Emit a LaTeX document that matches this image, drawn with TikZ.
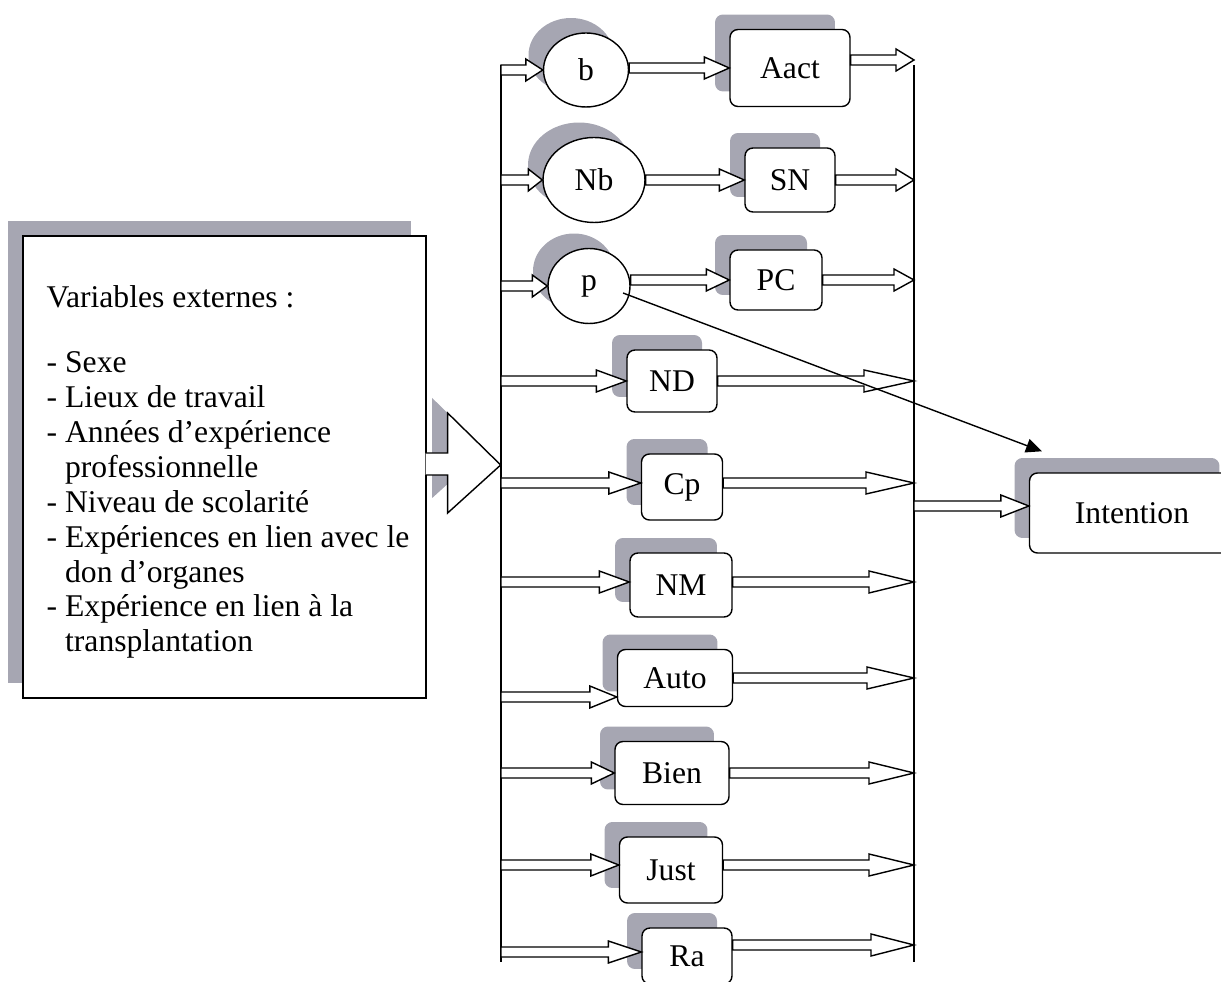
\documentclass[tikz,border=0pt]{standalone}
\usepackage{fontspec}
\setmainfont{Liberation Serif}
\usetikzlibrary{shapes.geometric,shadows,arrows.meta,calc}
\definecolor{shadowgray}{RGB}{166,166,178}
\newcommand{\hollow}[3][30]{%
  \draw[fill=white] let \p1=(#2), \p2=(#3) in
    (\x1,\y2+0.1cm) -- (\x2-#1*0.02cm,\y2+0.1cm) -- (\x2-#1*0.02cm,\y2+0.22cm)
    -- (\x2,\y2) -- (\x2-#1*0.02cm,\y2-0.22cm) -- (\x2-#1*0.02cm,\y2-0.1cm)
    -- (\x1,\y2-0.1cm) -- cycle;}
\begin{document}
\begin{tikzpicture}[x=0.02cm, y=-0.02cm, line width=0.8pt]
\tikzstyle{every node}=[draw,fill=white,font=\fontsize{18}{19.9}\selectfont]
\tikzstyle{ombre}=[general shadow={fill=shadowgray,shadow xshift=-0.3cm,shadow yshift=0.3cm}]
\tikzstyle{bulle}=[ellipse,ombre,inner sep=0pt]
\tikzstyle{boite}=[rectangle,ombre,rounded corners=4.5pt,inner sep=0pt]
\useasboundingbox (0,0) rectangle (1221,982);
\coordinate (ltop) at (501,65);
\coordinate (lbot) at (501,962);
\coordinate (rtop) at (914,65);
\coordinate (rbot) at (914,962);
\draw (ltop) -- (lbot);
\draw (rtop) -- (rbot);
\node[rectangle,ombre,minimum width=8.06cm,minimum height=9.24cm](ext) at (224.5,467) {};
\fill[shadowgray] ([shift={(5.5,-69)}]ext.east) -- ([shift={(58.5,-17)}]ext.east) -- ([shift={(5.5,31)}]ext.east) -- cycle;
\draw[fill=white] ([shift={(-1,-14)}]ext.east) -- ([shift={(21,-14)}]ext.east) -- ([shift={(21,-54)}]ext.east) -- ([shift={(74,-2)}]ext.east) -- ([shift={(21,46)}]ext.east) -- ([shift={(21,8)}]ext.east) -- ([shift={(-1,8)}]ext.east);
\node[draw=none,fill=none,align=left,anchor=west,inner sep=0pt](extlist) at (46,472)
  {Variables externes :\\[0.6cm]
   - Sexe\\
   - Lieux de travail\\
   - Années d’expérience\\
   \hphantom{- }professionnelle\\
   - Niveau de scolarité\\
   - Expériences en lien avec le\\
   \hphantom{- }don d’organes\\
   - Expérience en lien à la\\
   \hphantom{- }transplantation};
\node[bulle,minimum width=1.7cm,minimum height=1.48cm](b) at (586,70) {b};
\node[bulle,minimum width=2.04cm,minimum height=1.7cm](Nb) at (594,180) {Nb};
\node[bulle,minimum width=1.64cm,minimum height=1.5cm](p) at (589,286) {p};
\node[boite,minimum width=2.4cm,minimum height=1.54cm](Aact) at (790,68) {Aact};
\node[boite,minimum width=1.8cm,minimum height=1.28cm](SN) at (790,180) {SN};
\node[boite,minimum width=1.84cm,minimum height=1.2cm](PC) at (776,280) {PC};
\node[boite,minimum width=1.8cm,minimum height=1.24cm](ND) at (672,381) {ND};
\node[boite,minimum width=1.62cm,minimum height=1.32cm](Cp) at (682,487) {Cp};
\node[boite,minimum width=2.04cm,minimum height=1.28cm](NM) at (681,585) {NM};
\node[boite,minimum width=2.3cm,minimum height=1.14cm](Auto) at (675,678) {Auto};
\node[boite,minimum width=2.28cm,minimum height=1.26cm](Bien) at (672,773) {Bien};
\node[boite,minimum width=2.06cm,minimum height=1.32cm](Just) at (671,870) {Just};
\node[boite,minimum width=1.8cm,minimum height=1.12cm](Ra) at (687,956) {Ra};
\node[boite,minimum width=4.1cm,minimum height=1.6cm](int) at (1132,513) {Intention};
\hollow[17]{b.west -| ltop}{b.west}
\hollow[25]{b.east}{Aact.west}
\hollow[18]{Aact.east}{[yshift=0.16cm]Aact.east -| rtop}
\hollow[14]{Nb.west -| ltop}{Nb.west}
\hollow[25]{Nb.east}{SN.west}
\hollow[18]{SN.east}{SN.east -| rtop}
\hollow[15]{p.west -| ltop}{p.west}
\hollow[23]{p.east}{PC.west}
\hollow[20]{PC.east}{PC.east -| rtop}
\hollow[30]{ND.west -| ltop}{ND.west}
\hollow[50]{ND.east}{ND.east -| rtop}
\hollow[32]{Cp.west -| ltop}{[yshift=0.08cm]Cp.west}
\hollow[48]{Cp.east}{[yshift=0.08cm]Cp.east -| rtop}
\hollow[30]{NM.west -| ltop}{[yshift=0.06cm]NM.west}
\hollow[45]{NM.east}{[yshift=0.06cm]NM.east -| rtop}
\hollow[27]{Auto.west -| ltop}{[yshift=-0.38cm]Auto.west}
\hollow[47]{Auto.east}{Auto.east -| rtop}
\hollow[23]{Bien.west -| ltop}{Bien.west}
\hollow[45]{Bien.east}{Bien.east -| rtop}
\hollow[28]{Just.west -| ltop}{[yshift=0.1cm]Just.west}
\hollow[45]{Just.east}{[yshift=0.1cm]Just.east -| rtop}
\hollow[33]{Ra.west -| ltop}{[yshift=0.08cm]Ra.west}
\hollow[43]{Ra.east}{[yshift=0.22cm]Ra.east -| rtop}
\hollow[28]{[yshift=0.14cm]int.west -| rtop}{[yshift=0.14cm]int.west}
\draw[-{Triangle[length=9pt,width=8pt]}] ([shift={(34,7)}]p.center) -- ([shift={(13,-21)}]int.north west);
\end{tikzpicture}
\end{document}
